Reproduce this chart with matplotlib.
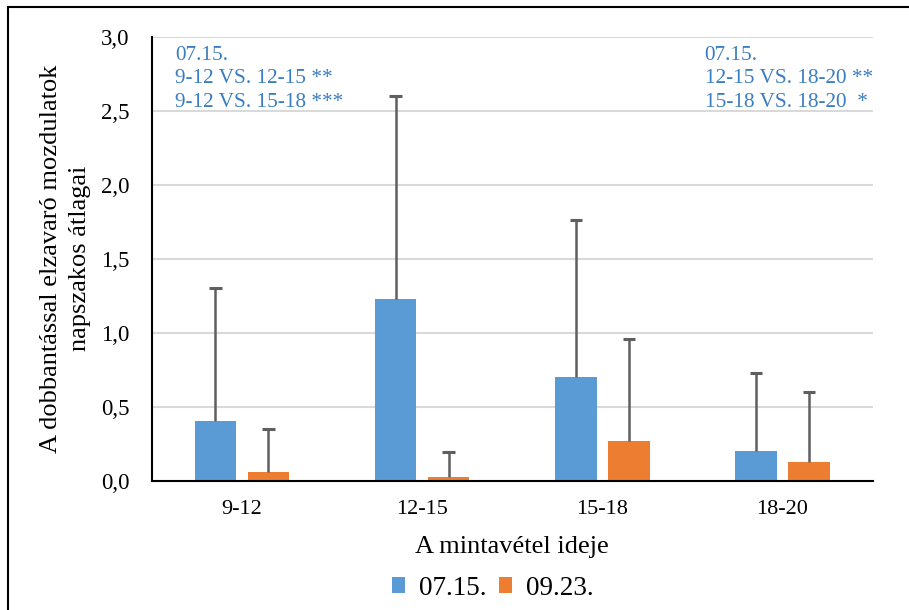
import numpy as np
import matplotlib.pyplot as plt
from matplotlib.patches import Rectangle

plt.rcParams['font.family'] = ['Liberation Serif', 'DejaVu Serif']

categories = ["9-12", "12-15", "15-18", "18-20"]
series_names = ["07.15.", "09.23."]
means_0715 = [0.40, 1.23, 0.70, 0.20]
tops_0715 = [1.30, 2.60, 1.76, 0.73]
means_0923 = [0.06, 0.025, 0.27, 0.125]
tops_0923 = [0.35, 0.195, 0.96, 0.60]
yticks = [0.0, 0.5, 1.0, 1.5, 2.0, 2.5, 3.0]

note_left = "07.15.\n9-12 VS. 12-15 **\n9-12 VS. 15-18 ***"
note_right = "07.15.\n12-15 VS. 18-20 **\n15-18 VS. 18-20  *"

BLUE = "#5B9BD5"
ORANGE = "#ED7D31"
TEXT_BLUE = "#3A7DC0"
ERR = "#5f5f5f"

fig = plt.figure(figsize=(9.09, 6.10), dpi=100)
ax = fig.add_axes([0.167, 0.212, 0.793, 0.728])

x = np.arange(len(categories))
w = 0.23
off = 0.147
cap = 0.034
for xs, means, tops, col, name in [(x - off, means_0715, tops_0715, BLUE, series_names[0]),
                                   (x + off, means_0923, tops_0923, ORANGE, series_names[1])]:
    ax.bar(xs, means, width=w, color=col, label=name, zorder=2)
    # plus-only error bars
    ax.vlines(xs, means, tops, color=ERR, lw=1.8, zorder=3)
    ax.hlines(tops, xs - cap, xs + cap, color=ERR, lw=2.2, zorder=3)

ax.set_xlim(-0.5, len(categories) - 0.5)
ax.set_ylim(0, 3.0)
ax.set_yticks(yticks)
ax.set_yticklabels([f"{v:.1f}".replace(".", ",") for v in yticks], fontsize=16.5)
ax.set_xticks(x)
ax.set_xticklabels(categories, fontsize=16)
ax.tick_params(length=0)
ax.tick_params(axis='x', pad=14)
ax.tick_params(axis='y', pad=16)
ax.grid(axis='y', color='#d9d9d9', lw=1.5, zorder=0)
ax.set_axisbelow(True)
for s in ['top', 'right']:
    ax.spines[s].set_visible(False)
ax.spines['left'].set_linewidth(1.5)
ax.spines['bottom'].set_linewidth(1.5)

ax.set_xlabel("A mintavétel ideje", fontsize=19, labelpad=12)
ax.set_ylabel("A dobbantással elzavaró mozdulatok\nnapszakos átlagai", fontsize=19,
              labelpad=7, linespacing=1.45)

ax.text(0.032, 0.979, note_left, transform=ax.transAxes, fontsize=15.3,
        color=TEXT_BLUE, va='top', ha='left', linespacing=1.32)
ax.text(0.767, 0.979, note_right, transform=ax.transAxes, fontsize=15.3,
        color=TEXT_BLUE, va='top', ha='left', linespacing=1.32)

fig.legend(loc='center', bbox_to_anchor=(0.542, 0.036), ncol=2, frameon=False,
           fontsize=19.5, handlelength=0.5, handleheight=0.5, handletextpad=0.5,
           columnspacing=0.45)

fig.patches.append(Rectangle((8 / 909, -0.05), 1.1, 1 - 7 / 610 + 0.05,
                             transform=fig.transFigure, fill=False,
                             edgecolor='black', lw=1.5))

fig.savefig("out.png", dpi=100)
